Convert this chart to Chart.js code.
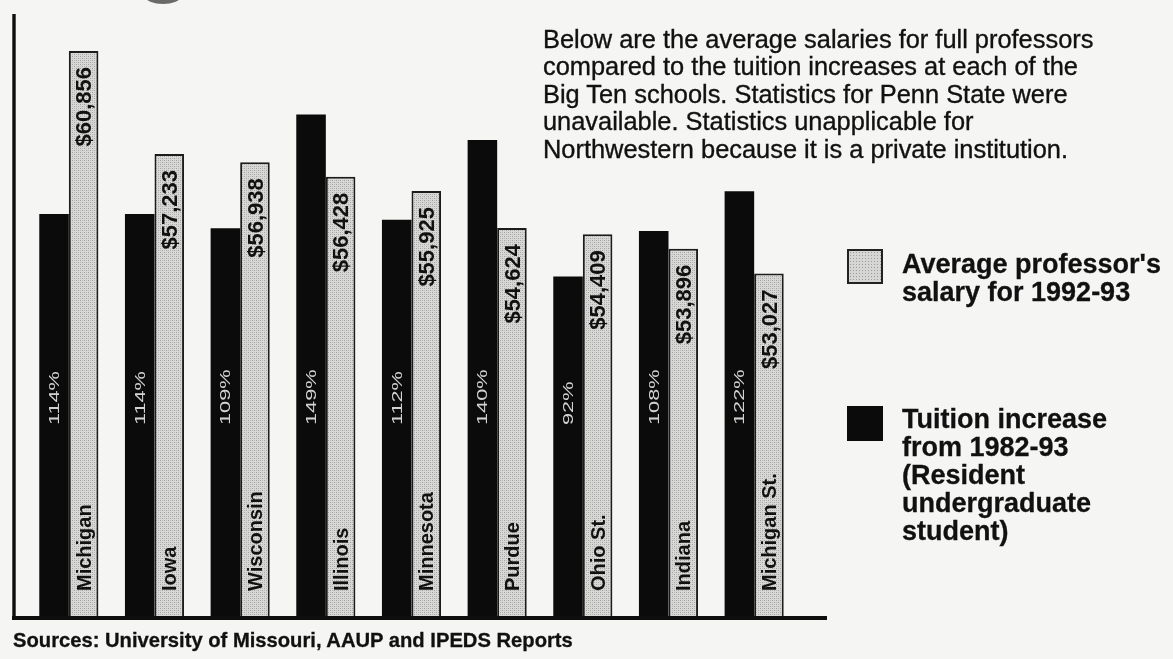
<!DOCTYPE html>
<html>
<head>
<meta charset="utf-8">
<title>Professor salaries vs tuition increases</title>
<script src="https://cdn.jsdelivr.net/npm/chart.js@4.4.1/dist/chart.umd.min.js"></script>
<style>
  html, body { margin: 0; padding: 0; background: #f5f5f3; }
  #wrap { position: relative; width: 1173px; height: 659px; overflow: hidden; font-family: 'Liberation Sans', Arial, Helvetica, sans-serif; color: #111; }
  #myChart { position: absolute; left: 0; top: 0; }
  .note { position: absolute; left: 543px; top: 26px; font-size: 25.4px; line-height: 27.4px; white-space: nowrap; -webkit-text-stroke: 0.35px #111; }
  .legend-text { position: absolute; left: 902px; font-size: 27px; font-weight: bold; line-height: 28px; white-space: nowrap; -webkit-text-stroke: 0.3px #111; }
  .swatch { position: absolute; left: 847px; width: 36px; height: 35px; box-sizing: border-box; }
  .swatch.gray { top: 249px; border: 2px solid #222; background-color: #d6d6d4; background-image: radial-gradient(#9c9c9a 0.7px, transparent 0.9px); background-size: 3px 3px; }
  .swatch.black { top: 406px; background: #0b0b0b; }
  .sources { position: absolute; left: 13px; top: 630px; font-size: 20.2px; font-weight: bold; line-height: 20px; white-space: nowrap; -webkit-text-stroke: 0.3px #111; }
  .logo { position: absolute; left: 146px; top: -9px; width: 34px; height: 13px; border-radius: 50%; background: #6a6a6a; }
</style>
</head>
<body>
<div id="wrap">
  <canvas id="myChart" width="1173" height="659"></canvas>
  <div class="logo"></div>
  <div class="note">Below are the average salaries for full professors<br>compared to the tuition increases at each of the<br>Big Ten schools. Statistics for Penn State were<br>unavailable. Statistics unapplicable for<br>Northwestern because it is a private institution.</div>
  <div class="swatch gray"></div>
  <div class="legend-text" style="top: 250px;">Average professor's<br>salary for 1992-93</div>
  <div class="swatch black"></div>
  <div class="legend-text" style="top: 405px;">Tuition increase<br>from 1982-93<br>(Resident<br>undergraduate<br>student)</div>
  <div class="sources">Sources: University of Missouri, AAUP and IPEDS Reports</div>
</div>
<script>
'use strict';

//---------------------- Data -------------------
let schools = ['Michigan', 'Iowa', 'Wisconsin', 'Illinois', 'Minnesota', 'Purdue', 'Ohio St.', 'Indiana', 'Michigan St.'];
let tuitionIncrease = [114, 114, 109, 149, 112, 140, 92, 108, 122];
let avgSalary = [60856, 57233, 56938, 56428, 55925, 54624, 54409, 53896, 53027];

// the two series sit on their own (hidden) value axes, like in the print
let tuitionMin = -27.3;
let tuitionMax = 184.3;
let salaryMin = 40975;
let salaryMax = 62156;

let canvas = document.getElementById('myChart');
let ctx = canvas.getContext('2d');

function makeStipple() {
  let tile = document.createElement('canvas');
  tile.width = 4;
  tile.height = 4;
  let g = tile.getContext('2d');
  g.fillStyle = '#d8d8d6';
  g.fillRect(0, 0, 4, 4);
  g.fillStyle = '#a2a2a0';
  g.fillRect(0, 0, 1, 1);
  g.fillRect(2, 2, 1, 1);
  g.fillStyle = '#bcbcba';
  g.fillRect(2, 0, 1, 1);
  g.fillRect(0, 2, 1, 1);
  return ctx.createPattern(tile, 'repeat');
}

function money(v) {
  return '$' + v.toLocaleString('en-US');
}

// draws a label turned 90deg, reading bottom to top, centred on x
function upText(c, text, x, y, align, capH, stretch) {
  c.save();
  c.translate(x + capH / 2, y);
  c.rotate(-Math.PI / 2);
  if (stretch) {
    c.scale(stretch, 1);
  }
  c.textAlign = align;
  c.textBaseline = 'alphabetic';
  c.fillText(text, 0, 0);
  c.restore();
}

let barLabels = {
  id: 'barLabels',
  afterDatasetsDraw(chart) {
    let c = chart.ctx;
    let blackBars = chart.getDatasetMeta(0).data;
    let grayBars = chart.getDatasetMeta(1).data;
    for (let i = 0; i < schools.length; i++) {
      let b = blackBars[i];
      let g = grayBars[i];
      // percent inside the black bar
      c.fillStyle = '#d2d2d0';
      c.font = '14px "Liberation Sans", Arial, sans-serif';
      upText(c, tuitionIncrease[i] + '%', b.x, b.base - 191, 'left', 10, 1.55);
      // school name at the foot of the gray bar
      c.fillStyle = '#111';
      c.font = 'bold 20px "Liberation Sans", Arial, sans-serif';
      upText(c, schools[i], g.x, g.base - 25, 'left', 14);
      // salary near the top of the gray bar
      c.font = 'bold 22px "Liberation Sans", Arial, sans-serif';
      upText(c, money(avgSalary[i]), g.x, g.y + 16, 'right', 15.5);
    }
  },
  afterDraw(chart) {
    let c = chart.ctx;
    c.save();
    c.strokeStyle = '#0e0e0e';
    c.lineCap = 'butt';
    c.lineWidth = 3.4;
    c.beginPath();
    c.moveTo(14, 14);
    c.lineTo(14, 620);
    c.stroke();
    c.lineWidth = 4;
    c.beginPath();
    c.moveTo(12, 618);
    c.lineTo(827, 618);
    c.stroke();
    c.restore();
  }
};

let myChart = new Chart(ctx, {
  type: 'bar',
  data: {
    labels: schools,
    datasets: [
      {
        label: 'Tuition increase from 1982-93 (Resident undergraduate student)',
        data: tuitionIncrease,
        yAxisID: 'yTuition',
        base: tuitionMin,
        backgroundColor: '#0b0b0b',
        borderWidth: 0,
        categoryPercentage: 0.69,
        barPercentage: 1.0,
      },
      {
        label: "Average professor's salary for 1992-93",
        data: avgSalary,
        yAxisID: 'ySalary',
        base: salaryMin,
        backgroundColor: makeStipple(),
        borderColor: '#1c1c1c',
        borderWidth: 2,
        categoryPercentage: 0.69,
        barPercentage: 1.0,
      },
    ],
  },
  options: {
    responsive: false,
    animation: false,
    devicePixelRatio: 1,
    layout: {
      padding: { left: 26, right: 376, top: 14, bottom: 43 },
    },
    scales: {
      x: { display: false },
      yTuition: { display: false, min: tuitionMin, max: tuitionMax },
      ySalary: { display: false, min: salaryMin, max: salaryMax },
    },
    plugins: {
      legend: { display: false },
      tooltip: { enabled: false },
    },
  },
  plugins: [barLabels],
});
</script>
</body>
</html>
